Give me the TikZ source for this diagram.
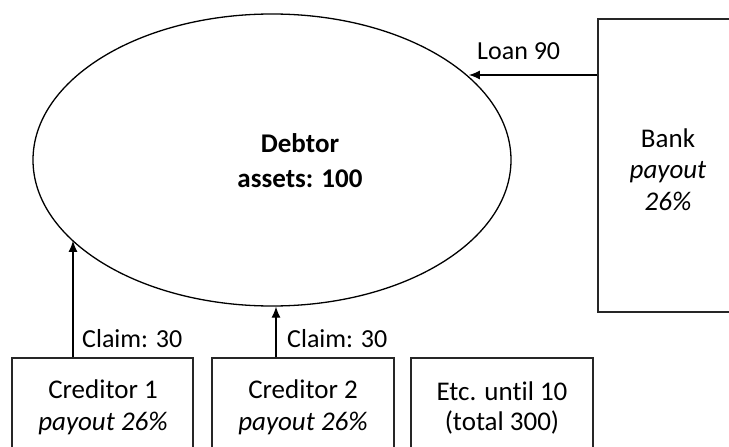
\documentclass[tikz,border=0pt]{standalone}
\usepackage{fontspec}
\setmainfont{Carlito}[Ligatures=NoCommon]
\usetikzlibrary{shapes.geometric,arrows.meta}
\begin{document}
\begin{tikzpicture}[x=1pt,y=-1pt,
  box/.style={draw=black!85, line width=1.4pt, inner sep=0pt},
  txt/.style={font=\fontsize{27}{32}\selectfont, anchor=base, inner sep=0pt},
  lbl/.style={font=\fontsize{26}{32}\selectfont, anchor=base west, inner sep=0pt},
  arr/.style={line width=1.2pt, -{Latex[length=11pt,width=9pt]}}]
\useasboundingbox (0,0) rectangle (729,447);
\clip (0,0) rectangle (729,447);
% debtor ellipse
\node[draw, ellipse, line width=1.3pt, minimum width=478pt, minimum height=292pt, inner sep=0pt] (deb) at (272,160) {};
\node[txt] (debt1) at (300,152) {\bfseries Debtor};
\node[txt] (debt2) at (300,187) {\bfseries assets: 100};
% bank
\node[box, minimum width=147pt, minimum height=293pt] (bank) at (671.5,165.5) {};
\node[txt] (bank1) at (668,147) {Bank};
\node[txt] (bank2) at (668,178) {\itshape payout};
\node[txt] (bank3) at (668,210) {\itshape 26\%};
% creditors
\node[box, minimum width=181pt, minimum height=100pt] (cred1) at (102.5,408) {};
\node[box, minimum width=182pt, minimum height=100pt] (cred2) at (303,408) {};
\node[box, minimum width=182pt, minimum height=100pt] (etc) at (502,408) {};
\node[txt] (c1a) at (103,398) {Creditor 1};
\node[txt] (c1b) at (103,430) {\itshape payout 26\%};
\node[txt] (c2a) at (303,398) {Creditor 2};
\node[txt] (c2b) at (303,430) {\itshape payout 26\%};
\node[txt] (e1) at (502,400) {Etc. until 10};
\node[txt] (e2) at (502,430) {(total 300)};
% connectors
\coordinate (ly) at (0,75);
\coordinate (ax1) at (73,0);
\coordinate (ax2) at (276,0);
\draw[arr] (bank.west |- ly) -- (ly -| deb.23.7);
\draw[arr] (cred1.north -| ax1) -- (ax1 |- deb.202.2);
\draw[arr] (cred2.north -| ax2) -- (ax2 |- deb.271.6);
\node[lbl] (loan) at (477,59) {Loan 90};
\node[lbl] (cl1) at (82,347) {Claim: 30};
\node[lbl] (cl2) at (287,347) {Claim: 30};
\end{tikzpicture}
\end{document}
